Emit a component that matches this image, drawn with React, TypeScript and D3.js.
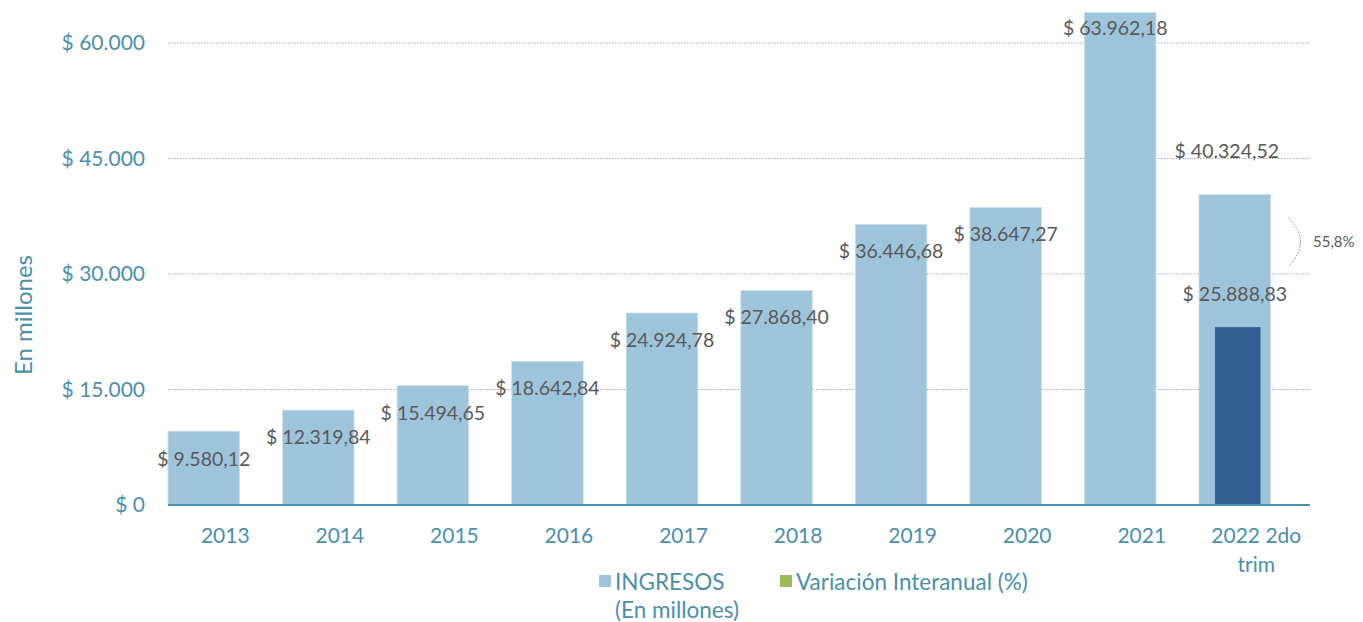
import React from "react";
import * as d3 from "d3";

const categories = ["2013", "2014", "2015", "2016", "2017", "2018", "2019", "2020", "2021", "2022 2do trim"];
const ingresos = [9580.12, 12319.84, 15494.65, 18642.84, 24924.78, 27868.4, 36446.68, 38647.27, 63962.18, 40324.52];
const ingresosLabels = ["$ 9.580,12", "$ 12.319,84", "$ 15.494,65", "$ 18.642,84", "$ 24.924,78", "$ 27.868,40", "$ 36.446,68", "$ 38.647,27", "$ 63.962,18", "$ 40.324,52"];
const trimCategory = "2022 2do trim";
const trimValue = 23100;
const trimLabel = "$ 25.888,83";
const trimLabelValue = 25888.83;
const variacionLabel = "55,8%";
const yTicks = [0, 15000, 30000, 45000, 60000];
const yTickLabels = ["$ 0", "$ 15.000", "$ 30.000", "$ 45.000", "$ 60.000"];

// label vertical offsets (px, relative to bar top) – styling only
const labelOffsets = [28, 27, 27, 27, 27, 27, 27, 27, 16, -43];

const W = 1363, H = 622;
const x0 = 168, x1 = 1313.6, yBase = 505, yTop = 43;
const TEAL = "#4A8FAB";
const GRAY = "#595959";
const FONT = "Lato, 'Open Sans', sans-serif";

export default function App() {
  const x = d3.scaleBand<string>().domain(categories).range([x0, x1]).paddingInner(0).paddingOuter(0);
  const y = d3.scaleLinear().domain([0, 60000]).range([yBase, yTop]);
  const step = x.bandwidth();
  const bw = step * 0.624;

  const tx = x(trimCategory)!;
  const trimCx = tx + bw / 2;
  const brTop = 217, brBot = 267;

  return (
    <svg width={W} height={H} style={{ position: "absolute", left: 0, top: 0, background: "#fff" }} fontFamily={FONT}>
      {/* gridlines */}
      {yTicks.slice(1).map((t) => (
        <line key={t} x1={x0} x2={1310} y1={y(t)} y2={y(t)} stroke="#A6A6A6" strokeWidth={1} strokeDasharray="1.5,1.5" />
      ))}
      {/* y tick labels */}
      {yTicks.map((t, i) => (
        <text key={t} x={145} y={y(t)} dy="0.35em" textAnchor="end" fontSize={21} fill={TEAL}>
          {yTickLabels[i]}
        </text>
      ))}
      <text transform={`translate(24,315) rotate(-90)`} textAnchor="middle" dy="0.35em" fontSize={24} fill={TEAL}>
        En millones
      </text>
      {/* bars */}
      {categories.map((c, i) => (
        <rect key={c} x={x(c)!} y={y(ingresos[i])} width={bw} height={yBase - y(ingresos[i])} fill="#9FC5DC" stroke="#C9DEEB" strokeWidth={0.8} />
      ))}
      <rect x={tx + 16} y={y(trimValue)} width={bw - 26} height={yBase - y(trimValue)} fill="#335E8F" />
      {/* axis */}
      <line x1={x0} x2={1310} y1={yBase} y2={yBase} stroke={TEAL} strokeWidth={2.2} />
      {/* data labels */}
      {categories.map((c, i) => (
        <text key={c} x={x(c)! + bw / 2 - (i === 8 ? 5 : i === 9 ? 8 : 0)} y={y(ingresos[i]) + labelOffsets[i]} dy="0.35em" textAnchor="middle" fontSize={19.5} fill={GRAY}>
          {ingresosLabels[i]}
        </text>
      ))}
      <text x={trimCx} y={y(trimLabelValue) - 11} dy="0.35em" textAnchor="middle" fontSize={19.5} fill={GRAY}>
        {trimLabel}
      </text>
      {/* variation bracket */}
      <path d={`M${1288},${brTop} Q${1313},${(brTop + brBot) / 2} ${1288},${brBot}`} fill="none" stroke="#7F7F7F" strokeWidth={1} strokeDasharray="1.5,1.5" />
      <text x={1313} y={(brTop + brBot) / 2} dy="0.35em" fontSize={15} fill={GRAY}>
        {variacionLabel}
      </text>
      {/* x labels */}
      {categories.map((c) => {
        const cx = x(c)! + step / 2;
        if (c === trimCategory) {
          return (
            <text key={c} x={cx} y={536} dy="0.35em" textAnchor="middle" fontSize={21} fill={TEAL}>
              <tspan x={cx}>2022 2do</tspan>
              <tspan x={cx} dy={29}>trim</tspan>
            </text>
          );
        }
        return (
          <text key={c} x={cx} y={536} dy="0.35em" textAnchor="middle" fontSize={21} fill={TEAL}>
            {c}
          </text>
        );
      })}
      {/* legend */}
      <rect x={599} y={575} width={12} height={12} fill="#9FC5DC" />
      <text x={615} y={582} dy="0.35em" fontSize={22.5} fill={TEAL}>INGRESOS</text>
      <text x={615} y={610} dy="0.35em" fontSize={22.5} fill={TEAL}>(En millones)</text>
      <rect x={780} y={575} width={12} height={12} fill="#9BBB59" />
      <text x={796} y={582} dy="0.35em" fontSize={22.5} fill={TEAL}>Variación Interanual (%)</text>
    </svg>
  );
}
